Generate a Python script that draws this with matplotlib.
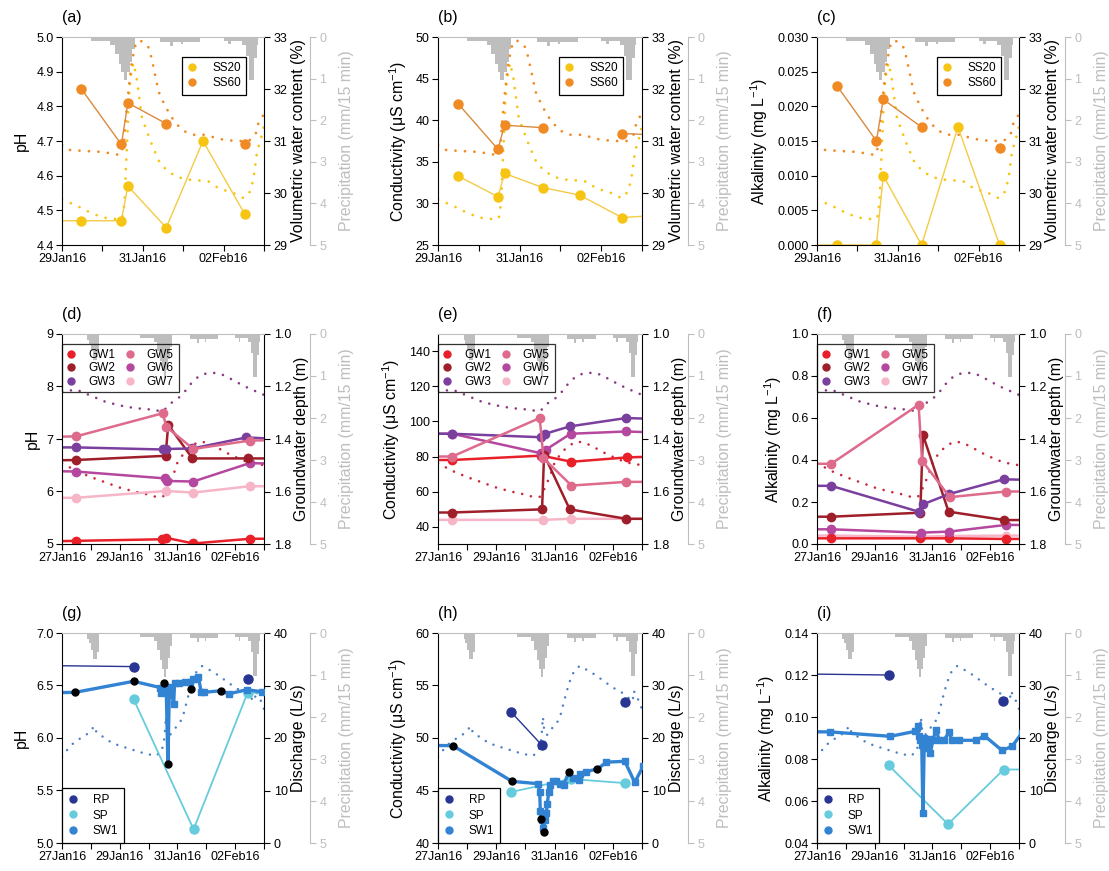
import numpy as np
import matplotlib
matplotlib.use('Agg')
import matplotlib.pyplot as plt
from matplotlib.lines import Line2D

plt.rcParams['font.family'] = ['Liberation Sans', 'DejaVu Sans']
plt.rcParams['mathtext.fontset'] = 'custom'
plt.rcParams['mathtext.rm'] = 'Liberation Sans'
plt.rcParams['mathtext.it'] = 'Liberation Sans:italic'
plt.rcParams['mathtext.bf'] = 'Liberation Sans:bold'
plt.rcParams['axes.unicode_minus'] = False

# ---------------- DATA (time = day of January 2016; 32 = 01Feb) ----------------
row1_xticks = [29, 30, 31, 32, 33, 34]
row1_xticklabels = ['29Jan16', '', '31Jan16', '', '02Feb16', '']
row23_xticks = [27, 28, 29, 30, 31, 32, 33, 34]
row23_xticklabels = ['27Jan16', '', '29Jan16', '', '31Jan16', '', '02Feb16', '']

# precipitation (mm / 15 min), step values starting at each time
precip_t = [27.00, 27.88, 27.94, 28.00, 28.08, 28.20, 28.27, 29.72, 30.20, 30.30,
            30.40, 30.47, 30.53, 30.62, 30.68, 30.74, 30.80, 31.42, 31.67, 31.75,
            31.95, 32.00, 32.42, 33.00, 33.12, 33.18, 33.45, 33.55, 33.62, 33.76,
            33.82, 33.86, 34.00]
precip_v = [0.00, 0.15, 0.25, 0.40, 0.62, 0.45, 0.00, 0.10, 0.20, 0.40,
            0.65, 0.85, 1.04, 0.85, 0.60, 0.30, 0.00, 0.12, 0.22, 0.12,
            0.18, 0.12, 0.00, 0.10, 0.18, 0.10, 0.20, 0.45, 1.03, 0.50,
            0.20, 0.00, 0.00]
precip_ticks = [0, 1, 2, 3, 4, 5]
precip_ticklabels = ['0', '1', '2', '3', '4', '5']

# volumetric water content (%)
vwc_ss20_t = [29.0, 29.33, 29.66, 29.99, 30.32, 30.49, 30.55, 30.58, 30.62, 30.65, 30.69,
              30.77, 30.85, 30.98, 31.23, 31.43, 31.64, 31.84, 32.1, 32.41, 32.63, 32.88,
              33.24, 33.5, 33.66, 33.74, 33.83, 33.95, 34.0]
vwc_ss20_v = [29.87, 29.77, 29.64, 29.53, 29.50, 29.51, 29.83, 30.47, 31.12, 31.76, 32.2,
              32.5, 32.2, 31.44, 30.92, 30.56, 30.41, 30.31, 30.26, 30.24, 30.22, 30.09,
              30.0, 29.9, 30.03, 30.28, 30.8, 31.12, 31.3]
vwc_ss60_t = [29.0, 29.17, 29.5, 29.99, 30.44, 30.53, 30.58, 30.65, 30.73, 30.82, 30.91,
              31.06, 31.16, 31.27, 31.39, 31.56, 31.76, 31.97, 32.22, 32.55, 32.88, 33.29,
              33.62, 33.79, 33.87, 33.95, 34.0]
vwc_ss60_v = [30.92, 30.83, 30.81, 30.79, 30.73, 30.92, 31.44, 32.01, 32.53, 32.85, 32.94,
              32.88, 32.78, 32.4, 31.95, 31.66, 31.4, 31.21, 31.12, 31.12, 31.04, 31.0,
              31.0, 31.12, 31.37, 31.47, 31.5]

# soil water samples
ss20_ph_t = [27.49, 29.48, 30.47, 30.63, 31.58, 32.49, 33.52]
ss20_ph = [4.47, 4.47, 4.47, 4.57, 4.45, 4.70, 4.49]
ss60_ph_t = [29.48, 30.47, 30.63, 31.58, 32.49, 33.52]
ss60_ph = [4.85, 4.69, 4.81, 4.75, np.nan, 4.69]

ss20_ec_t = [29.49, 30.47, 30.63, 31.57, 32.47, 33.51, 34.5]
ss20_ec = [33.3, 30.8, 33.6, 31.9, 31.0, 28.3, 28.6]
ss60_ec_t = [29.49, 30.47, 30.63, 31.57, 32.47, 33.51, 34.5]
ss60_ec = [42.0, 36.5, 39.4, 39.1, np.nan, 38.4, 38.2]

ss20_alk_t = [27.49, 29.49, 30.47, 30.64, 31.59, 32.49, 33.52]
ss20_alk = [0.0, 0.0, 0.0, 0.010, 0.0, 0.017, 0.0]
ss60_alk_t = [29.49, 30.47, 30.64, 31.59, 32.49, 33.52]
ss60_alk = [0.023, 0.015, 0.021, 0.017, np.nan, 0.014]

# groundwater depth (m)
gwd_upper_t = [27.0, 27.5, 28.0, 28.5, 29.0, 29.5, 30.0, 30.5, 30.75, 31.0, 31.25, 31.5,
               31.75, 32.0, 32.25, 32.5, 32.75, 33.0, 33.25, 33.5, 33.75, 34.0]
gwd_upper = [1.219, 1.212, 1.235, 1.258, 1.272, 1.282, 1.287, 1.295, 1.265, 1.248, 1.22, 1.185,
             1.16, 1.15, 1.148, 1.152, 1.165, 1.18, 1.195, 1.208, 1.22, 1.232]
gwd_lower_t = [27.0, 27.5, 28.0, 28.5, 29.0, 29.5, 30.0, 30.3, 30.5, 30.65, 30.85, 31.0,
               31.25, 31.5, 31.75, 32.0, 32.25, 32.5, 32.75, 33.0, 33.25, 33.5, 33.75, 34.0]
gwd_lower = [1.492, 1.522, 1.545, 1.565, 1.585, 1.60, 1.612, 1.622, 1.62, 1.59, 1.54, 1.49,
             1.45, 1.425, 1.41, 1.413, 1.425, 1.44, 1.455, 1.468, 1.48, 1.49, 1.495, 1.50]

# groundwater wells: pH
gw1_ph_t = [26.5, 27.49, 30.48, 30.59, 31.55, 33.52, 34.5]
gw1_ph = [5.05, 5.06, 5.09, 5.12, 5.01, 5.10, 5.10]
gw2_ph_t = [26.5, 27.49, 30.59, 30.68, 31.52, 33.44, 34.5]
gw2_ph = [6.59, 6.60, 6.68, 7.27, 6.63, 6.63, 6.63]
gw3_ph_t = [26.5, 27.49, 30.50, 30.62, 31.52, 33.39, 34.5]
gw3_ph = [6.84, 6.84, 6.80, 6.81, 6.82, 7.03, 7.00]
gw5_ph_t = [26.5, 27.49, 30.49, 30.62, 31.55, 33.50, 34.5]
gw5_ph = [7.04, 7.05, 7.49, 7.23, 6.81, 6.97, 6.98]
gw6_ph_t = [26.5, 27.49, 30.56, 30.65, 31.55, 33.50, 34.5]
gw6_ph = [6.39, 6.38, 6.25, 6.20, 6.19, 6.54, 6.53]
gw7_ph_t = [26.5, 27.49, 30.59, 31.55, 33.50, 34.5]
gw7_ph = [5.88, 5.88, 6.01, 5.98, 6.10, 6.10]

# groundwater wells: conductivity
gw1_ec_t = [26.5, 27.49, 30.55, 31.58, 33.50, 34.5]
gw1_ec = [78.0, 78.0, 80.5, 77.0, 79.5, 80.0]
gw2_ec_t = [26.5, 27.49, 30.57, 30.64, 31.52, 33.46, 34.5]
gw2_ec = [48.0, 48.0, 49.8, 81.0, 49.8, 44.4, 44.4]
gw3_ec_t = [26.5, 27.49, 30.55, 30.68, 31.52, 33.46, 34.5]
gw3_ec = [93.0, 93.0, 91.0, 93.0, 97.2, 102.0, 101.4]
gw5_ec_t = [26.5, 27.49, 30.49, 30.62, 31.58, 33.46, 34.5]
gw5_ec = [80.0, 80.0, 102.0, 79.0, 63.4, 65.5, 65.5]
gw6_ec_t = [26.5, 27.49, 30.55, 30.69, 31.55, 33.46, 34.5]
gw6_ec = [93.0, 93.0, 81.8, 83.8, 93.0, 94.3, 93.7]
gw7_ec_t = [26.5, 27.49, 30.60, 31.55, 33.46, 34.5]
gw7_ec = [43.8, 43.8, 43.8, 44.4, 44.4, 44.4]

# groundwater wells: alkalinity
gw1_alk_t = [26.5, 27.49, 30.58, 31.58, 33.55, 34.5]
gw1_alk = [0.027, 0.027, 0.027, 0.027, 0.024, 0.024]
gw2_alk_t = [26.5, 27.49, 30.58, 30.67, 31.56, 33.49, 34.5]
gw2_alk = [0.13, 0.13, 0.149, 0.52, 0.154, 0.114, 0.114]
gw3_alk_t = [26.5, 27.49, 30.52, 30.67, 31.58, 33.47, 34.5]
gw3_alk = [0.277, 0.277, 0.154, 0.189, 0.238, 0.308, 0.305]
gw5_alk_t = [26.5, 27.49, 30.52, 30.64, 31.60, 33.55, 34.5]
gw5_alk = [0.382, 0.382, 0.663, 0.397, 0.223, 0.25, 0.25]
gw6_alk_t = [26.5, 27.49, 30.60, 31.58, 33.55, 34.5]
gw6_alk = [0.07, 0.07, 0.054, 0.059, 0.091, 0.09]
gw7_alk_t = [26.5, 27.49, 30.60, 31.58, 33.55, 34.5]
gw7_alk = [0.04, 0.04, 0.035, 0.038, 0.04, 0.04]

# stream discharge (L/s)
q_t = [27.0, 27.3, 27.7, 27.95, 28.12, 28.2, 28.4, 28.75, 29.3, 29.9, 30.25, 30.45, 30.55,
       30.6, 30.65, 30.75, 30.9, 31.05, 31.2, 31.35, 31.5, 31.65, 31.85, 32.1, 32.4, 32.7,
       33.0, 33.3, 33.55, 33.68, 33.72, 33.8, 33.9, 34.0]
q_v = [16.4, 18.6, 20.2, 21.0, 22.3, 21.0, 20.3, 19.0, 18.0, 17.0, 16.6, 17.4, 20.0,
       24.0, 21.0, 20.6, 21.8, 22.5, 24.3, 27.5, 30.5, 32.5, 33.7, 33.0, 32.0, 30.8,
       29.6, 28.7, 27.6, 27.0, 29.0, 28.0, 27.0, 25.5]

# rain (RP), spring (SP), stream (SW1): pH
rp_ph_t = [26.5, 29.48, 31.5, 33.43]
rp_ph = [6.69, 6.68, np.nan, 6.56]
sp_ph_t = [29.48, 31.56, 33.43, 34.5]
sp_ph = [6.37, 5.13, 6.43, 6.43]
sw1_ph_auto_t = [26.5, 30.41, 30.44, 30.49, 30.58, 30.61, 30.72, 30.76, 30.87, 30.90, 31.06,
                 31.25, 31.42, 31.54, 31.64, 31.73, 31.82, 31.91, 32.77, 33.41, 33.93, 34.3]
sw1_ph_auto = [6.43, 6.48, 6.43, 6.47, 6.44, 6.49, 6.46, 6.49, 6.32, 6.52, 6.52,
               6.53, 6.53, 6.56, 6.565, 6.58, 6.44, 6.435, 6.42, 6.46, 6.44, 6.44]
sw1_ph_grab_t = [27.46, 29.48, 30.52, 30.67, 31.48, 32.51]
sw1_ph_grab = [6.435, 6.54, 6.52, 5.75, 6.47, 6.45]

# conductivity
rp_ec_t = [29.52, 30.57, 32.0, 33.43]
rp_ec = [52.44, 49.3, np.nan, 53.46]
sp_ec_t = [29.52, 31.55, 33.43]
sp_ec = [44.86, 46.1, 45.7]
sw1_ec_auto_t = [26.5, 30.43, 30.49, 30.51, 30.57, 30.60, 30.66, 30.72, 30.75, 30.80, 30.86,
                 30.95, 31.06, 31.18, 31.31, 31.63, 31.84, 31.86, 32.09, 32.78, 33.41, 33.75,
                 34.04]
sw1_ec_auto = [49.3, 45.65, 44.9, 43.08, 42.2, 41.4, 42.16, 42.9, 43.75, 44.83, 45.56,
               45.87, 45.94, 45.65, 45.56, 46.2, 46.0, 46.6, 46.8, 47.7, 47.78, 45.78,
               47.3]
sw1_ec_grab_t = [27.51, 29.54, 30.52, 30.64, 31.49, 32.47]
sw1_ec_grab = [49.27, 45.87, 42.32, 41.05, 46.73, 47.05]

# alkalinity
rp_alk_t = [26.5, 29.48, 31.5, 33.43]
rp_alk = [0.1205, 0.120, np.nan, 0.1078]
sp_alk_t = [29.48, 31.54, 33.47, 34.5]
sp_alk = [0.077, 0.049, 0.075, 0.075]
sw1_alk_t = [26.5, 27.46, 29.54, 30.41, 30.49, 30.52, 30.58, 30.63, 30.67, 30.72, 30.79,
             30.87, 30.93, 31.02, 31.12, 31.24, 31.39, 31.58, 31.68, 31.91, 32.52, 32.80,
             33.41, 33.76, 34.1]
sw1_alk = [0.093, 0.0929, 0.0908, 0.0932, 0.0959, 0.0908, 0.0889, 0.0868, 0.0543, 0.090, 0.0852,
           0.0895, 0.083, 0.0892, 0.0937, 0.0892, 0.0889, 0.0927, 0.0889, 0.0889, 0.0889, 0.0911,
           0.0841, 0.086, 0.0924]

# ---------------- STYLE ----------------
PCOL = '#BEBEBE'
C_SS20, C_SS60 = '#F6C514', '#F08A24'
C_GW = {'GW1': '#E8202A', 'GW2': '#9E1F2A', 'GW3': '#7B3F9E',
        'GW5': '#DE6A8C', 'GW6': '#B5489E', 'GW7': '#F7B6C8'}
C_DEP_UP, C_DEP_LO = '#8A3A80', '#C8283C'
C_RP, C_SP, C_SW1, C_Q = '#283593', '#66CCDD', '#3383D3', '#4A80C4'
DOT = (0, (0.01, 3.4))
TICKFS = 9
LABFS = 11.4

W, H = 1109, 871
fig = plt.figure(figsize=(W / 100, H / 100), dpi=100)


def panel(box, letter, xlim, xticks, xticklabels, ylim, yticks, yticklabels, ylabel,
          y2lim, y2ticks, y2ticklabels, y2label):
    l, t, r, b = box
    ax = fig.add_axes([l / W, 1 - b / H, (r - l) / W, (b - t) / H])
    ax3 = ax.twinx()
    ax2 = ax.twinx()
    ax3.set_zorder(1)
    ax2.set_zorder(2)
    ax.set_zorder(3)
    for a in (ax, ax2, ax3):
        a.patch.set_visible(False)
    # precipitation axis
    ax3.fill_between(precip_t, precip_v, step='post', color=PCOL, lw=0)
    ax3.set_ylim(5, 0)
    ax3.set_yticks(precip_ticks)
    ax3.set_yticklabels(precip_ticklabels)
    ax3.spines['right'].set_position(('outward', 33))
    ax3.spines['right'].set_color(PCOL)
    for s in ('left', 'top', 'bottom'):
        ax3.spines[s].set_visible(False)
    ax3.tick_params(axis='y', colors=PCOL, direction='out', length=4, labelsize=TICKFS, pad=3)
    ax3.set_ylabel('Precipitation (mm/15 min)', color=PCOL, fontsize=LABFS, labelpad=9)
    # secondary axis
    ax2.set_ylim(*y2lim)
    ax2.set_yticks(y2ticks)
    ax2.set_yticklabels(y2ticklabels)
    for s in ('left', 'top', 'bottom'):
        ax2.spines[s].set_visible(False)
    ax2.tick_params(axis='y', direction='out', length=4, labelsize=TICKFS, pad=3)
    ax2.set_ylabel(y2label, fontsize=LABFS, labelpad=2)
    # main axis
    ax.set_xlim(*xlim)
    ax.set_ylim(*ylim)
    ax.set_xticks(xticks)
    ax.set_xticklabels(xticklabels)
    ax.set_yticks(yticks)
    ax.set_yticklabels(yticklabels)
    ax.spines['right'].set_visible(False)
    ax.spines['top'].set_color(PCOL)
    ax.tick_params(direction='out', length=4, labelsize=TICKFS, pad=2)
    ax.set_ylabel(ylabel, fontsize=LABFS, labelpad=5)
    fig.text(l / W, 1 - (t - 12) / H, letter, fontsize=11.5, ha='left', va='bottom')
    return ax, ax2


def marker_handle(c):
    return Line2D([], [], marker='o', ls='', color=c, ms=5)


def style_legend(leg):
    leg.get_frame().set_linewidth(0.9)


cols = [(62, 264), (438, 642), (817, 1019)]
rows = [(37, 245), (334, 544), (633, 843)]

# ---------------- ROW 1: soil water ----------------
row1 = [
    ('(a)', (4.4, 5.0), [4.4, 4.5, 4.6, 4.7, 4.8, 4.9, 5.0],
     ['4.4', '4.5', '4.6', '4.7', '4.8', '4.9', '5.0'], 'pH',
     ss20_ph_t, ss20_ph, ss60_ph_t, ss60_ph),
    ('(b)', (25, 50), [25, 30, 35, 40, 45, 50], ['25', '30', '35', '40', '45', '50'],
     r'Conductivity (μS cm$^{-1}$)', ss20_ec_t, ss20_ec, ss60_ec_t, ss60_ec),
    ('(c)', (0, 0.030), [0, 0.005, 0.010, 0.015, 0.020, 0.025, 0.030],
     ['0.000', '0.005', '0.010', '0.015', '0.020', '0.025', '0.030'],
     r'Alkalinity (mg L$^{-1}$)', ss20_alk_t, ss20_alk, ss60_alk_t, ss60_alk),
]
for (letter, ylim, yt, ytl, ylab, t20, v20, t60, v60), (l, r) in zip(row1, cols):
    t, b = rows[0]
    ax, ax2 = panel((l, t, r, b), letter, (29, 34), row1_xticks, row1_xticklabels,
                    ylim, yt, ytl, ylab, (29, 33), [29, 30, 31, 32, 33],
                    ['29', '30', '31', '32', '33'], 'Volumetric water content (%)')
    ax2.plot(vwc_ss20_t, vwc_ss20_v, ls=DOT, color=C_SS20, lw=2.0, dash_capstyle='round')
    ax2.plot(vwc_ss60_t, vwc_ss60_v, ls=DOT, color=C_SS60, lw=2.0, dash_capstyle='round')
    ax.plot(t20, v20, color='#F3CB45', lw=1.0, marker='o', ms=6.5, mfc=C_SS20, mec=C_SS20)
    ax.plot(t60, v60, color='#D98A3E', lw=1.0, marker='o', ms=6.5, mfc=C_SS60, mec=C_SS60)
    leg = ax.legend([marker_handle(C_SS20), marker_handle(C_SS60)], ['SS20', 'SS60'],
                    loc='upper left', bbox_to_anchor=(0.594, 0.904), fontsize=8.5,
                    frameon=True, fancybox=False, edgecolor='black', framealpha=1,
                    handlelength=0.8, handletextpad=1.3, borderpad=0.45,
                    labelspacing=0.25, borderaxespad=0)
    style_legend(leg)

# ---------------- ROW 2: groundwater ----------------
row2 = [
    ('(d)', (5, 9), [5, 6, 7, 8, 9], ['5', '6', '7', '8', '9'], 'pH',
     [(gw1_ph_t, gw1_ph), (gw2_ph_t, gw2_ph), (gw3_ph_t, gw3_ph),
      (gw5_ph_t, gw5_ph), (gw6_ph_t, gw6_ph), (gw7_ph_t, gw7_ph)]),
    ('(e)', (30, 150), [40, 60, 80, 100, 120, 140], ['40', '60', '80', '100', '120', '140'],
     r'Conductivity (μS cm$^{-1}$)',
     [(gw1_ec_t, gw1_ec), (gw2_ec_t, gw2_ec), (gw3_ec_t, gw3_ec),
      (gw5_ec_t, gw5_ec), (gw6_ec_t, gw6_ec), (gw7_ec_t, gw7_ec)]),
    ('(f)', (0, 1.0), [0, 0.2, 0.4, 0.6, 0.8, 1.0], ['0.0', '0.2', '0.4', '0.6', '0.8', '1.0'],
     r'Alkalinity (mg L$^{-1}$)',
     [(gw1_alk_t, gw1_alk), (gw2_alk_t, gw2_alk), (gw3_alk_t, gw3_alk),
      (gw5_alk_t, gw5_alk), (gw6_alk_t, gw6_alk), (gw7_alk_t, gw7_alk)]),
]
gw_names = ['GW1', 'GW2', 'GW3', 'GW5', 'GW6', 'GW7']
draw_order = ['GW7', 'GW1', 'GW6', 'GW2', 'GW3', 'GW5']
for (letter, ylim, yt, ytl, ylab, series), (l, r) in zip(row2, cols):
    t, b = rows[1]
    ax, ax2 = panel((l, t, r, b), letter, (27, 34), row23_xticks, row23_xticklabels,
                    ylim, yt, ytl, ylab, (1.8, 1.0), [1.0, 1.2, 1.4, 1.6, 1.8],
                    ['1.0', '1.2', '1.4', '1.6', '1.8'], 'Groundwater depth (m)')
    ax2.plot(gwd_upper_t, gwd_upper, ls=DOT, color=C_DEP_UP, lw=1.9, dash_capstyle='round')
    ax2.plot(gwd_lower_t, gwd_lower, ls=DOT, color=C_DEP_LO, lw=1.9, dash_capstyle='round')
    smap = dict(zip(gw_names, series))
    for name in draw_order:
        tt, vv = smap[name]
        ax.plot(tt, vv, color=C_GW[name], lw=1.8, marker='o', ms=6)
    leg = ax.legend([marker_handle(C_GW[n]) for n in gw_names], gw_names, ncol=2,
                    loc='upper left', bbox_to_anchor=(0.0, 0.952), fontsize=8.5,
                    frameon=True, fancybox=False, edgecolor='black', facecolor='none',
                    handlelength=0.8, handletextpad=1.0, borderpad=0.4,
                    labelspacing=0.12, columnspacing=0.9, borderaxespad=0)
    style_legend(leg)

# ---------------- ROW 3: surface water ----------------
row3 = [
    ('(g)', (5.0, 7.0), [5.0, 5.5, 6.0, 6.5, 7.0], ['5.0', '5.5', '6.0', '6.5', '7.0'], 'pH',
     (rp_ph_t, rp_ph), (sp_ph_t, sp_ph), (sw1_ph_auto_t, sw1_ph_auto),
     (sw1_ph_grab_t, sw1_ph_grab)),
    ('(h)', (40, 60), [40, 45, 50, 55, 60], ['40', '45', '50', '55', '60'],
     r'Conductivity (μS cm$^{-1}$)',
     (rp_ec_t, rp_ec), (sp_ec_t, sp_ec), (sw1_ec_auto_t, sw1_ec_auto),
     (sw1_ec_grab_t, sw1_ec_grab)),
    ('(i)', (0.04, 0.14), [0.04, 0.06, 0.08, 0.10, 0.12, 0.14],
     ['0.04', '0.06', '0.08', '0.10', '0.12', '0.14'], r'Alkalinity (mg L$^{-1}$)',
     (rp_alk_t, rp_alk), (sp_alk_t, sp_alk), (sw1_alk_t, sw1_alk), ([], [])),
]
for (letter, ylim, yt, ytl, ylab, rp, sp, swa, swg), (l, r) in zip(row3, cols):
    t, b = rows[2]
    ax, ax2 = panel((l, t, r, b), letter, (27, 34), row23_xticks, row23_xticklabels,
                    ylim, yt, ytl, ylab, (0, 40), [0, 10, 20, 30, 40],
                    ['0', '10', '20', '30', '40'], 'Discharge (L/s)')
    ax2.plot(q_t, q_v, ls=DOT, color=C_Q, lw=1.8, dash_capstyle='round')
    ax.plot(rp[0], rp[1], color=C_RP, lw=1.0, marker='o', ms=6.5)
    ax.plot(sp[0], sp[1], color=C_SP, lw=1.3, marker='o', ms=6.5)
    all_t = np.concatenate([np.asarray(swa[0], float), np.asarray(swg[0], float)])
    all_v = np.concatenate([np.asarray(swa[1], float), np.asarray(swg[1], float)])
    order = np.argsort(all_t)
    ax.plot(all_t[order], all_v[order], color=C_SW1, lw=2.4)
    ax.plot(swa[0], swa[1], ls='', marker='s', ms=5, color=C_SW1)
    if len(swg[0]):
        ax.plot(swg[0], swg[1], ls='', marker='o', ms=5, color='black')
    leg = ax.legend([marker_handle(C_RP), marker_handle(C_SP), marker_handle(C_SW1)],
                    ['RP', 'SP', 'SW1'], loc='lower left', bbox_to_anchor=(0, 0),
                    fontsize=8.5, frameon=True, fancybox=False, edgecolor='black',
                    framealpha=1, handlelength=0.8, handletextpad=1.3, borderpad=0.5,
                    labelspacing=0.3, borderaxespad=0)
    style_legend(leg)

fig.savefig('out.png', dpi=100, facecolor='white')
